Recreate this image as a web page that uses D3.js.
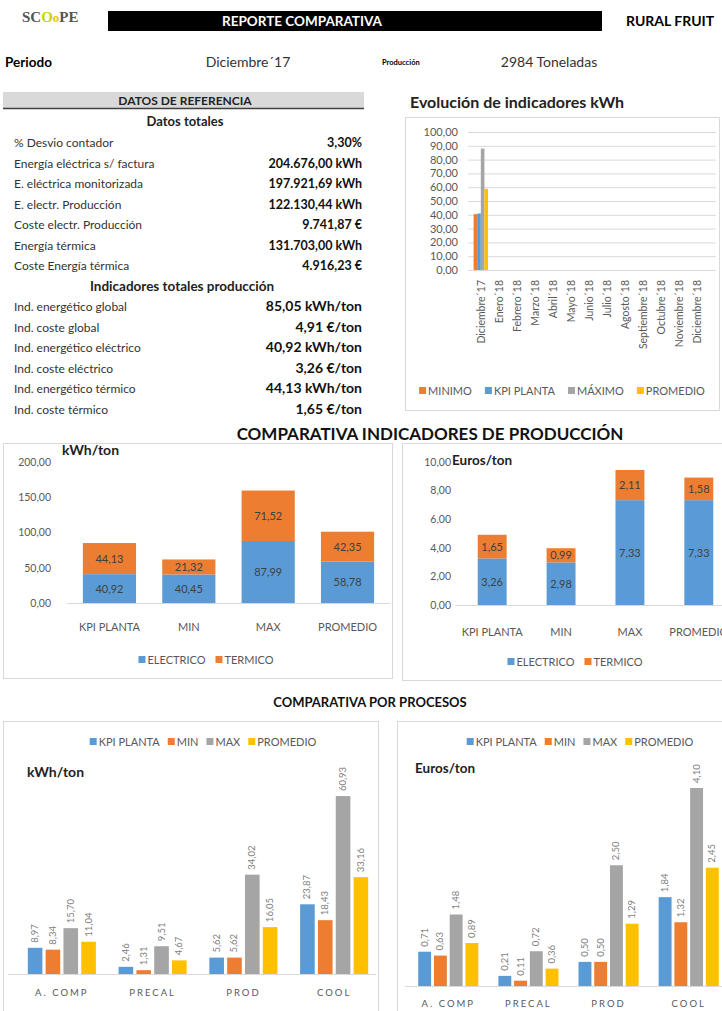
<!DOCTYPE html>
<html>
<head>
<meta charset="utf-8">
<script src="https://cdn.jsdelivr.net/npm/d3@7"></script>
<style>
  body { margin: 0; background: #fff; }
  svg text { font-family: Lato, "Open Sans", sans-serif; }
</style>
</head>
<body>
<svg id="page" width="722" height="1011"></svg>
<script>
// ---- data ----
const periodo = "Diciembre´17";
const produccion = "2984 Toneladas";

const totalesLabels = ["% Desvio contador", "Energía eléctrica s/ factura", "E. eléctrica monitorizada",
  "E. electr. Producción", "Coste electr. Producción", "Energía térmica", "Coste Energía térmica"];
const totalesValues = ["3,30%", "204.676,00 kWh", "197.921,69 kWh", "122.130,44 kWh",
  "9.741,87 €", "131.703,00 kWh", "4.916,23 €"];
const indicLabels = ["Ind. energético global", "Ind. coste global", "Ind. energético eléctrico",
  "Ind. coste eléctrico", "Ind. energético térmico", "Ind. coste térmico"];
const indicValues = ["85,05 kWh/ton", "4,91 €/ton", "40,92 kWh/ton", "3,26 €/ton", "44,13 kWh/ton", "1,65 €/ton"];

const meses = ["Diciembre´17", "Enero´18", "Febrero´18", "Marzo´18", "Abril´18", "Mayo´18", "Junio´18",
  "Julio´18", "Agosto´18", "Septiembre´18", "Octubre´18", "Noviembre´18", "Diciembre´18"];
const evoSeries = ["MINIMO", "KPI PLANTA", "MÁXIMO", "PROMEDIO"];
const evoMinimo = [40.45];
const evoKpi = [40.92];
const evoMaximo = [87.99];
const evoPromedio = [58.78];
const evoTicks = [0, 10, 20, 30, 40, 50, 60, 70, 80, 90, 100];

const compCats = ["KPI PLANTA", "MIN", "MAX", "PROMEDIO"];
const compSeries = ["ELECTRICO", "TERMICO"];
const kwhElectrico = [40.92, 40.45, 87.99, 58.78];
const kwhTermico = [44.13, 21.32, 71.52, 42.35];
const kwhTicks = [0, 50, 100, 150, 200];
const eurElectrico = [3.26, 2.98, 7.33, 7.33];
const eurTermico = [1.65, 0.99, 2.11, 1.58];
const eurTicks = [0, 2, 4, 6, 8, 10];

const procesos = ["A. COMP", "PRECAL", "PROD", "COOL"];
const procSeries = ["KPI PLANTA", "MIN", "MAX", "PROMEDIO"];
const procKwhKpi = [8.97, 2.46, 5.62, 23.87];
const procKwhMin = [8.34, 1.31, 5.62, 18.43];
const procKwhMax = [15.70, 9.51, 34.02, 60.93];
const procKwhProm = [11.04, 4.67, 16.05, 33.16];
const procEurKpi = [0.71, 0.21, 0.50, 1.84];
const procEurMin = [0.63, 0.11, 0.50, 1.32];
const procEurMax = [1.48, 0.72, 2.50, 4.10];
const procEurProm = [0.89, 0.36, 1.29, 2.45];

// ---- helpers ----
const es = d3.formatLocale({decimal: ",", thousands: ".", grouping: [3], currency: ["", "€"]});
const f2 = es.format(",.2f");
const BLUE = "#5B9BD5", ORANGE = "#ED7D31", GRAY = "#A5A5A5", YELLOW = "#FFC000";
const TXT = "#595959";

const svg = d3.select("#page");

function legend(g, items, cx, y, size, gap) {
  // lay out items then center them on cx
  const lg = g.append("g");
  let x = 0;
  items.forEach(it => {
    lg.append("rect").attr("x", x).attr("y", y - 4).attr("width", 7).attr("height", 7).attr("fill", it.color);
    const t = lg.append("text").attr("x", x + 9).attr("y", y + 3.5)
      .attr("font-size", size).attr("fill", TXT).text(it.name);
    x += 9 + t.node().getComputedTextLength() + gap;
  });
  lg.attr("transform", "translate(" + (cx - (x - gap) / 2) + ",0)");
}

function box(x, y, w, h) {
  svg.append("rect").attr("x", x).attr("y", y).attr("width", w).attr("height", h)
    .attr("fill", "none").attr("stroke", "#d9d9d9");
}

// ---- header ----
const logo = svg.append("text").attr("x", 22).attr("y", 22)
  .attr("font-size", 15).attr("font-weight", "bold").style("font-family", "'Liberation Serif', serif");
logo.append("tspan").attr("fill", "#555").text("SC");
logo.append("tspan").attr("fill", "#c2d600").text("O");
logo.append("tspan").attr("fill", "#e6c800").attr("font-size", 13).text("o");
logo.append("tspan").attr("fill", "#555").text("PE");

svg.append("rect").attr("x", 108).attr("y", 11).attr("width", 494).attr("height", 20).attr("fill", "#000");
svg.append("text").attr("x", 302).attr("y", 26).attr("text-anchor", "middle")
  .attr("font-size", 13.5).attr("font-weight", "bold").attr("fill", "#fff").text("REPORTE COMPARATIVA");
svg.append("text").attr("x", 626).attr("y", 26)
  .attr("font-size", 14).attr("font-weight", "bold").attr("fill", "#000").text("RURAL FRUIT");

svg.append("text").attr("x", 5).attr("y", 67).attr("font-size", 13.5).attr("font-weight", "bold").text("Periodo");
svg.append("text").attr("x", 248).attr("y", 67).attr("text-anchor", "middle").attr("font-size", 14)
  .attr("fill", "#333").text(periodo);
svg.append("text").attr("x", 382).attr("y", 65).attr("font-size", 7.5).attr("font-weight", "bold").text("Producción");
svg.append("text").attr("x", 549).attr("y", 67).attr("text-anchor", "middle").attr("font-size", 14)
  .attr("fill", "#333").text(produccion);

// ---- tabla datos de referencia ----
svg.append("rect").attr("x", 3).attr("y", 92).attr("width", 361).attr("height", 16).attr("fill", "#d9d9d9");
svg.append("line").attr("x1", 3).attr("x2", 364).attr("y1", 108.5).attr("y2", 108.5).attr("stroke", "#404040").attr("stroke-width", 1.5);
svg.append("text").attr("x", 185).attr("y", 104.5).attr("text-anchor", "middle").attr("font-size", 12)
  .attr("font-weight", "bold").attr("fill", "#222").text("DATOS DE REFERENCIA");
svg.append("text").attr("x", 185).attr("y", 126).attr("text-anchor", "middle").attr("font-size", 13)
  .attr("font-weight", "bold").attr("fill", "#222").text("Datos totales");

const rowY = d3.scaleLinear().domain([0, 1]).range([147, 167.5]);
totalesLabels.forEach((l, i) => {
  svg.append("text").attr("x", 14).attr("y", rowY(i)).attr("font-size", 12).attr("fill", "#333").text(l);
  svg.append("text").attr("x", 362).attr("y", rowY(i)).attr("text-anchor", "end").attr("font-size", 12.5)
    .attr("font-weight", "bold").attr("fill", "#111").text(totalesValues[i]);
});
svg.append("text").attr("x", 182).attr("y", rowY(7)).attr("text-anchor", "middle").attr("font-size", 13.5)
  .attr("font-weight", "bold").attr("fill", "#222").text("Indicadores totales producción");
indicLabels.forEach((l, i) => {
  svg.append("text").attr("x", 14).attr("y", rowY(8 + i)).attr("font-size", 12).attr("fill", "#333").text(l);
  svg.append("text").attr("x", 362).attr("y", rowY(8 + i)).attr("text-anchor", "end").attr("font-size", 14)
    .attr("font-weight", "bold").attr("fill", "#111").text(indicValues[i]);
});

// ---- evolución de indicadores ----
svg.append("text").attr("x", 410).attr("y", 108).attr("font-size", 16).attr("font-weight", "bold")
  .attr("fill", "#222").text("Evolución de indicadores kWh");
box(405.5, 117.5, 314, 293);
{
  const g = svg.append("g");
  const y = d3.scaleLinear().domain([0, 100]).range([270, 132]);
  const x = d3.scaleBand().domain(meses).range([470, 708]).padding(0.2);
  const yAx = g.append("g").attr("transform", "translate(468,0)")
    .call(d3.axisLeft(y).tickValues(evoTicks).tickFormat(f2).tickSize(-248).tickPadding(10));
  yAx.select(".domain").remove();
  yAx.selectAll("line").attr("stroke", "#d9d9d9");
  yAx.selectAll("text").attr("fill", TXT).attr("font-size", 11).style("font-family", "Lato");
  const series = [evoMinimo, evoKpi, evoMaximo, evoPromedio];
  const colors = [ORANGE, BLUE, GRAY, YELLOW];
  const x1 = d3.scaleBand().domain(evoSeries).range([0, x.bandwidth()]);
  series.forEach((vals, si) => {
    g.append("g").selectAll("rect").data(vals).enter().append("rect")
      .attr("x", (d, i) => x(meses[i]) + x1(evoSeries[si]))
      .attr("width", x1.bandwidth())
      .attr("y", d => y(d))
      .attr("height", d => y(0) - y(d))
      .attr("fill", colors[si]);
  });
  g.append("line").attr("x1", 468).attr("x2", 716).attr("y1", 270.5).attr("y2", 270.5).attr("stroke", "#d9d9d9");
  const xAx = g.append("g").attr("transform", "translate(0,270)").call(d3.axisBottom(x).tickSize(0).tickPadding(0));
  xAx.select(".domain").remove();
  xAx.selectAll("text").attr("transform", "rotate(-90)").attr("text-anchor", "end")
    .attr("x", -10).attr("y", 0).attr("dy", "0.35em").attr("fill", TXT).attr("font-size", 10.5).style("font-family", "Lato");
  legend(g, evoSeries.map((n, i) => ({name: n, color: colors[i]})), 562, 391, 11, 13);
}

// ---- comparativa indicadores de producción ----
svg.append("text").attr("x", 430).attr("y", 440).attr("text-anchor", "middle").attr("font-size", 17)
  .attr("font-weight", "bold").attr("fill", "#111").text("COMPARATIVA INDICADORES DE PRODUCCIÓN");

function stacked(opts) {
  const g = svg.append("g");
  const y = d3.scaleLinear().domain([0, d3.max(opts.ticks)]).range([opts.y0, opts.y1]);
  const x = d3.scaleBand().domain(compCats).range(opts.xr).paddingInner(opts.pi).paddingOuter(opts.po);
  const yAx = g.append("g").attr("transform", "translate(" + opts.ax + ",0)")
    .call(d3.axisLeft(y).tickValues(opts.ticks).tickFormat(f2).tickSize(0).tickPadding(0));
  yAx.select(".domain").remove();
  yAx.selectAll("text").attr("fill", TXT).attr("font-size", 10.5).style("font-family", "Lato");
  const rows = compCats.map((c, i) => ({cat: c, ELECTRICO: opts.el[i], TERMICO: opts.te[i]}));
  const stack = d3.stack().keys(compSeries)(rows);
  const colors = [BLUE, ORANGE];
  stack.forEach((layer, li) => {
    const lg = g.append("g");
    lg.selectAll("rect").data(layer).enter().append("rect")
      .attr("x", d => x(d.data.cat)).attr("width", x.bandwidth())
      .attr("y", d => y(d[1])).attr("height", d => y(d[0]) - y(d[1]))
      .attr("fill", colors[li]);
    lg.selectAll("text").data(layer).enter().append("text")
      .attr("x", d => x(d.data.cat) + x.bandwidth() / 2)
      .attr("y", d => (y(d[0]) + y(d[1])) / 2 + 4)
      .attr("text-anchor", "middle").attr("font-size", 11).attr("fill", "#404040")
      .text(d => f2(d[1] - d[0]));
  });
  g.append("line").attr("x1", opts.lx[0]).attr("x2", opts.lx[1]).attr("y1", opts.y0 + 0.5).attr("y2", opts.y0 + 0.5)
    .attr("stroke", "#d9d9d9");
  const xAx = g.append("g").attr("transform", "translate(0," + opts.y0 + ")")
    .call(d3.axisBottom(x).tickSize(0).tickPadding(opts.labPad));
  xAx.select(".domain").remove();
  xAx.selectAll("text").attr("fill", TXT).attr("font-size", 11).style("font-family", "Lato");
  g.append("text").attr("x", opts.unitX).attr("y", opts.unitY).attr("font-size", opts.unitSize).attr("font-weight", "bold")
    .attr("fill", "#222").text(opts.unit);
  legend(g, compSeries.map((n, i) => ({name: n, color: colors[i]})), opts.legX, opts.legY, 11, 10);
}

box(3.5, 443.5, 389, 235);
stacked({ticks: kwhTicks, el: kwhElectrico, te: kwhTermico, y0: 603, y1: 462, xr: [67, 390], pi: 0.33, po: 0.2,
  ax: 51, lx: [67, 390], labPad: 20, unit: "kWh/ton", unitSize: 14, unitX: 62, unitY: 455, legX: 206, legY: 660});
box(402.5, 443.5, 330, 237);
stacked({ticks: eurTicks, el: eurElectrico, te: eurTermico, y0: 605, y1: 462, xr: [455, 736], pi: 0.58, po: 0.33,
  ax: 451, lx: [455, 722], labPad: 23, unit: "Euros/ton", unitSize: 13.5, unitX: 452, unitY: 465, legX: 575, legY: 662});

// ---- comparativa por procesos ----
svg.append("text").attr("x", 370).attr("y", 707).attr("text-anchor", "middle").attr("font-size", 13)
  .attr("font-weight", "bold").attr("fill", "#111").text("COMPARATIVA POR PROCESOS");

function grouped(opts) {
  const g = svg.append("g");
  const y = d3.scaleLinear().domain(opts.domain).range([opts.y0, opts.y1]);
  const x0 = d3.scaleBand().domain(procesos).range(opts.xr).paddingInner(0.25).paddingOuter(opts.po);
  const x1 = d3.scaleBand().domain(procSeries).range([0, x0.bandwidth()]).paddingInner(0.18);
  const colors = [BLUE, ORANGE, GRAY, YELLOW];
  opts.series.forEach((vals, si) => {
    const sg = g.append("g");
    sg.selectAll("rect").data(vals).enter().append("rect")
      .attr("x", (d, i) => x0(procesos[i]) + x1(procSeries[si]))
      .attr("width", x1.bandwidth())
      .attr("y", d => y(d)).attr("height", d => y(0) - y(d))
      .attr("fill", colors[si]);
    sg.selectAll("text").data(vals).enter().append("text")
      .attr("transform", (d, i) => "translate(" + (x0(procesos[i]) + x1(procSeries[si]) + x1.bandwidth() / 2 + 3) + "," + (y(d) - 5) + ") rotate(-90)")
      .attr("font-size", 9.5).attr("fill", "#7f7f7f").text(d => f2(d));
  });
  g.append("line").attr("x1", opts.lx[0]).attr("x2", opts.lx[1]).attr("y1", opts.y0 + 0.5).attr("y2", opts.y0 + 0.5)
    .attr("stroke", "#d9d9d9");
  const xAx = g.append("g").attr("transform", "translate(0," + opts.y0 + ")")
    .call(d3.axisBottom(x0).tickSize(0).tickPadding(opts.labPad));
  xAx.select(".domain").remove();
  xAx.selectAll("text").attr("fill", TXT).attr("font-size", 9.5).attr("letter-spacing", 2).style("font-family", "Lato");
  g.append("text").attr("x", opts.unitX).attr("y", opts.unitY).attr("font-size", opts.unitSize).attr("font-weight", "bold")
    .attr("fill", "#222").text(opts.unit);
  legend(g, procSeries.map((n, i) => ({name: n, color: colors[i]})), opts.legX, 742, 11, 8);
}

box(3.5, 721.5, 375, 300);
grouped({domain: [0, 70], y0: 974, y1: 769.6, xr: [16, 380], po: 0.13, lx: [8, 376], labPad: 15,
  series: [procKwhKpi, procKwhMin, procKwhMax, procKwhProm],
  unit: "kWh/ton", unitSize: 14, unitX: 27, unitY: 777, legX: 203});
box(397.5, 721.5, 340, 300);
grouped({domain: [0, 4.5], y0: 986, y1: 768.7, xr: [407, 730], po: 0.14, lx: [405, 722], labPad: 14,
  series: [procEurKpi, procEurMin, procEurMax, procEurProm],
  unit: "Euros/ton", unitSize: 13.5, unitX: 415, unitY: 773, legX: 580});
</script>
</body>
</html>
